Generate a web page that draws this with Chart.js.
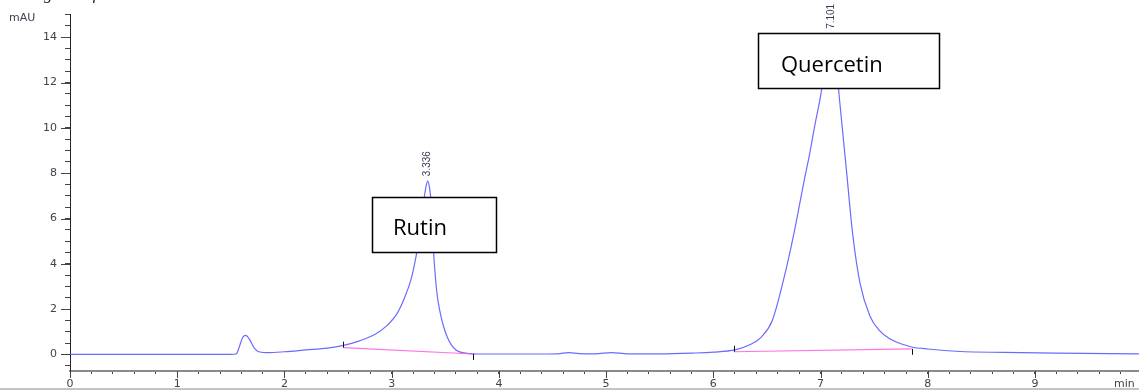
<!DOCTYPE html>
<html>
<head>
<meta charset="utf-8">
<script src="https://cdn.jsdelivr.net/npm/chart.js@4.4.1/dist/chart.umd.min.js"></script>
<style>
  html, body { margin: 0; padding: 0; background: #fff; }
  canvas { display: block; }
</style>
</head>
<body>
<canvas id="chrom" width="1139" height="392"></canvas>
<script>
// chromatogram trace (min, mAU)
const times = [0, 0.5, 1.0, 1.5, 1.55, 1.58, 1.61, 1.64, 1.67, 1.71, 1.76, 1.85, 2.0, 2.2, 2.4, 2.55, 2.7, 2.85, 2.95, 3.05,
  3.12, 3.18, 3.23, 3.27, 3.30, 3.32, 3.336, 3.355, 3.37, 3.39, 3.42, 3.45, 3.48, 3.52, 3.56, 3.60, 3.65, 3.72, 3.8, 4.0,
  4.3, 4.55, 4.65, 4.75, 4.9, 5.05, 5.2, 5.5, 5.8, 6.0, 6.2, 6.35, 6.45, 6.55, 6.65, 6.75, 6.84, 6.90, 6.95, 7.0,
  7.05, 7.101, 7.15, 7.18, 7.24, 7.30, 7.37, 7.46, 7.55, 7.65, 7.75, 7.85, 8.0, 8.3, 8.7, 9.2, 9.97];
const signal = [0, 0, 0, 0, 0.02, 0.35, 0.75, 0.84, 0.7, 0.35, 0.12, 0.08, 0.12, 0.2, 0.28, 0.4, 0.6, 0.9, 1.25, 1.8,
  2.5, 3.3, 4.4, 5.6, 6.8, 7.4, 7.65, 7.3, 6.6, 4.6, 2.8, 1.9, 1.3, 0.75, 0.4, 0.2, 0.09, 0.04, 0.02, 0.02,
  0.02, 0.03, 0.08, 0.04, 0.03, 0.08, 0.03, 0.03, 0.06, 0.1, 0.2, 0.45, 0.78, 1.5, 3.2, 5.3, 7.5, 8.9, 10.2, 11.4,
  13.0, 14.15, 12.6, 11.1, 8.2, 5.3, 3.1, 1.7, 1.05, 0.68, 0.47, 0.33, 0.24, 0.13, 0.09, 0.06, 0.03];

// integration baselines
const rutinBaseT = [2.55, 3.76];
const rutinBaseV = [0.30, 0.02];
const quercBaseT = [6.19, 7.85];
const quercBaseV = [0.12, 0.25];

// peak annotations
const peakTimes = [3.336, 7.101];
const peakTops = [7.65, 14.15];
const peakLabels = ['3.336', '7.101'];
const compoundNames = ['Rutin', 'Quercetin'];

const toPts = (t, v) => t.map((x, i) => ({ x, y: v[i] }));
const isInt = v => Math.abs(v - Math.round(v)) < 1e-6;
const tickFont = { family: 'DejaVu Sans', size: 11 };

const overlay = {
  id: 'overlay',
  afterDraw(chart) {
    const { ctx, scales: { x, y } } = chart;
    const axisY = x.top, axisX = y.right;
    ctx.save();
    const line = (x1, y1, x2, y2) => { ctx.beginPath(); ctx.moveTo(x1, y1); ctx.lineTo(x2, y2); ctx.stroke(); };

    // major ticks (longer)
    ctx.strokeStyle = '#444'; ctx.lineWidth = 1;
    for (let v = 0; v <= 9; v++) { const px = Math.round(x.getPixelForValue(v)) + 0.5; line(px, axisY, px, axisY + 7); }
    for (let v = 0; v <= 14; v += 2) { const py = Math.round(y.getPixelForValue(v)) + 0.5; line(axisX - 9, py, axisX, py); }

    // baseline start / end marks
    ctx.strokeStyle = '#111';
    [[rutinBaseT, rutinBaseV], [quercBaseT, quercBaseV]].forEach(([t, v]) => {
      const sx = Math.round(x.getPixelForValue(t[0])) + 0.5, sy = y.getPixelForValue(v[0]);
      line(sx, sy - 6, sx, sy);
      const ex = Math.round(x.getPixelForValue(t[1])) + 0.5, ey = y.getPixelForValue(v[1]);
      line(ex, ey, ex, ey + 6);
    });

    // retention time labels
    ctx.fillStyle = '#3a3a55';
    ctx.font = '10px "Liberation Sans"';
    ctx.textAlign = 'left'; ctx.textBaseline = 'middle';
    peakTimes.forEach((t, i) => {
      ctx.save();
      ctx.translate(x.getPixelForValue(t), y.getPixelForValue(peakTops[i]) - 5);
      ctx.rotate(-Math.PI / 2);
      ctx.fillText(peakLabels[i], 0, 0);
      ctx.restore();
    });

    // compound boxes
    const boxes = [[372, 197, 124, 55, 393, 235], [758, 33, 181, 55, 781, 72]];
    ctx.font = '22px "Open Sans"';
    ctx.textBaseline = 'alphabetic';
    boxes.forEach(([bx, by, bw, bh, tx, ty], i) => {
      ctx.fillStyle = '#fff'; ctx.fillRect(bx, by, bw, bh);
      ctx.strokeStyle = '#000'; ctx.lineWidth = 1.5; ctx.strokeRect(bx + 0.5, by + 0.5, bw, bh);
      ctx.fillStyle = '#000'; ctx.fillText(compoundNames[i], tx, ty);
    });

    // axis unit labels
    ctx.fillStyle = '#404050';
    ctx.font = '11px "DejaVu Sans"';
    ctx.fillText('mAU', 9, 21);
    ctx.fillText('min', 1114, 387);

    // caption cut off at the top
    ctx.fillStyle = '#222';
    ctx.font = 'italic 17px "Liberation Serif"';
    const pre = 'Chromato';
    ctx.fillText('Chromatogram of standards', 44 - ctx.measureText(pre).width, -1);

    // bottom frame line
    ctx.fillStyle = '#c4c4c4';
    ctx.fillRect(0, 388, chart.width, 2);
    ctx.restore();
  }
};

new Chart(document.getElementById('chrom'), {
  type: 'line',
  data: {
    datasets: [
      { data: toPts(times, signal), borderColor: 'rgba(70,70,255,0.8)', borderWidth: 1.2, pointRadius: 0, cubicInterpolationMode: 'monotone', order: 2 },
      { data: toPts(rutinBaseT, rutinBaseV), borderColor: 'rgba(255,90,225,0.85)', borderWidth: 1.2, pointRadius: 0, order: 1 },
      { data: toPts(quercBaseT, quercBaseV), borderColor: 'rgba(255,90,225,0.85)', borderWidth: 1.2, pointRadius: 0, order: 1 }
    ]
  },
  options: {
    responsive: false,
    animation: false,
    devicePixelRatio: 1,
    layout: { padding: { top: 11, right: 0, bottom: 0, left: 0 } },
    plugins: { legend: { display: false }, tooltip: { enabled: false } },
    scales: {
      x: {
        type: 'linear', min: 0, max: 9.97,
        afterFit: s => { s.height = 21; },
        border: { color: '#8a8a8a', width: 2 },
        grid: { drawOnChartArea: false, tickLength: 3, color: '#444' },
        ticks: { stepSize: 0.2, autoSkip: false, maxRotation: 0, includeBounds: false, padding: 4, color: '#404050', font: tickFont,
          callback: v => isInt(v) ? String(Math.round(v)) : '' }
      },
      y: {
        min: -0.73, max: 15,
        afterFit: s => { s.width = 70; },
        border: { color: '#222', width: 1 },
        grid: { drawOnChartArea: false, tickLength: 5, color: '#444' },
        ticks: { stepSize: 0.5, autoSkip: false, includeBounds: false, padding: 8, color: '#404050', font: tickFont,
          callback: v => (isInt(v) && Math.round(v) % 2 === 0) ? String(Math.round(v)) : '' }
      }
    }
  },
  plugins: [overlay]
});
</script>
</body>
</html>
